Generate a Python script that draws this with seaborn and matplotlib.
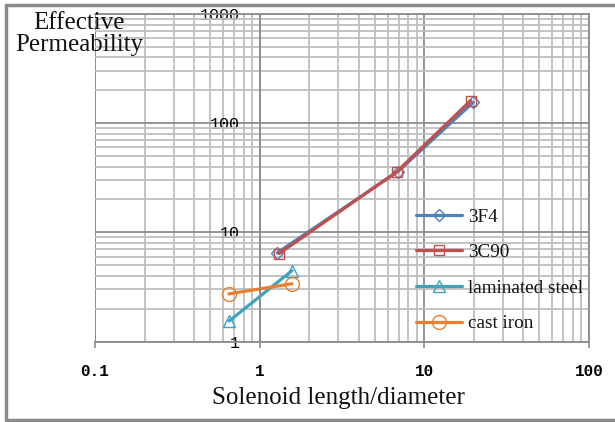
import matplotlib
matplotlib.use("Agg")
import matplotlib.pyplot as plt
import seaborn as sns
import pandas as pd
import numpy as np
from matplotlib.ticker import LogLocator, FixedLocator, NullFormatter
from matplotlib.lines import Line2D

# ---- data ----
series_names = ["3F4", "3C90", "laminated steel", "cast iron"]
x_3f4 = [1.28, 6.9, 19.8]
y_3f4 = [6.5, 36.0, 155.0]
x_3c90 = [1.31, 6.78, 19.1]
y_3c90 = [6.38, 35.7, 160.8]
x_lam = [0.653, 1.57]
y_lam = [1.54, 4.45]
x_cast = [0.65, 1.57]
y_cast = [2.73, 3.38]

colors = ["#4F81BD", "#C0504D", "#3FA3BE", "#E8802F"]
markers = ["D", "s", "^", "o"]
msizes = [6, 7, 8, 10]

xticks = [0.1, 1, 10, 100]
xticklabels = ["0.1", "1", "10", "100"]
yticks = [1, 10, 100, 1000]
yticklabels = ["1", "10", "100", "1000"]

frames = []
for name, xs, ys in [("3F4", x_3f4, y_3f4), ("3C90", x_3c90, y_3c90),
                     ("laminated steel", x_lam, y_lam), ("cast iron", x_cast, y_cast)]:
    frames.append(pd.DataFrame({"x": xs, "y": ys, "series": name}))
df = pd.concat(frames, ignore_index=True)

sns.set_theme(style="white")
plt.rcParams["font.family"] = ["Liberation Serif", "DejaVu Serif"]

fig = plt.figure(figsize=(6.15, 4.22), dpi=100)
ax = fig.add_axes([95 / 615, 1 - 341.5 / 422, 494 / 615, 327.5 / 422])

ax.set_xscale("log")
ax.set_yscale("log")
ax.set_xlim(0.1, 100)
ax.set_ylim(1, 1000)

# grid
ax.xaxis.set_minor_locator(LogLocator(base=10, subs=np.arange(2, 10)))
ax.yaxis.set_minor_locator(LogLocator(base=10, subs=np.arange(2, 10)))
ax.xaxis.set_minor_formatter(NullFormatter())
ax.yaxis.set_minor_formatter(NullFormatter())
ax.grid(True, which="minor", color="#BEBEBE", linewidth=1.3)
ax.grid(True, which="major", color="#8C8C8C", linewidth=1.3)
ax.set_axisbelow(True)

for name, c, m, ms in zip(series_names, colors, markers, msizes):
    sub = df[df["series"] == name]
    sns.lineplot(data=sub, x="x", y="y", ax=ax, color=c, linewidth=2.3,
                 marker=m, markersize=ms, markerfacecolor="none",
                 markeredgecolor=c, markeredgewidth=1.0, label=name,
                 legend=False, sort=False)

# y axis crosses at x = 1
for s in ["top", "right"]:
    ax.spines[s].set_color("#8C8C8C")
    ax.spines[s].set_linewidth(1.3)
ax.spines["left"].set_position(("data", 1))
ax.spines["left"].set_color("#8C8C8C")
ax.spines["left"].set_linewidth(1.3)
ax.spines["bottom"].set_color("#8C8C8C")
ax.spines["bottom"].set_linewidth(1.3)
# left border of plot area
ax.axvline(0.1, color="#8C8C8C", linewidth=1.3, zorder=0.5)

ax.xaxis.set_major_locator(FixedLocator(xticks))
ax.set_xticklabels(xticklabels, fontfamily="Liberation Mono", fontweight="bold",
                   fontsize=11.5, color="black")
ax.yaxis.set_major_locator(FixedLocator(yticks))
ax.set_yticklabels(yticklabels, fontfamily="Liberation Mono", fontsize=12, color="black")
ax.tick_params(axis="x", which="major", direction="out", length=4, width=1.2,
               color="#8C8C8C", pad=12, bottom=True)
ax.tick_params(axis="x", which="minor", length=0)
ax.tick_params(axis="y", which="both", length=0, pad=14)
ax.set_xlabel("")
ax.set_ylabel("")

# legend
handles = [Line2D([0], [0], color=c, linewidth=2.3, marker=m, markersize=ms,
                  markerfacecolor="none", markeredgecolor=c, markeredgewidth=1.0)
           for c, m, ms in zip(colors, markers, msizes)]
leg = ax.legend(handles, series_names, loc="upper left",
                bbox_to_anchor=(0.614, 0.46), frameon=False,
                handlelength=2.4, labelspacing=0.95, handletextpad=0.35,
                prop={"family": "Liberation Serif", "size": 13.8})
for t in leg.get_texts():
    t.set_color("#111111")

# axis titles
fig.text(79 / 615, 1 - 34 / 422, "Effective\nPermeability", ha="center", va="center",
         fontsize=18, linespacing=1.05, color="#111111")
fig.text(338 / 615, 1 - 398 / 422, "Solenoid length/diameter", ha="center", va="center",
         fontsize=18, color="#111111")

# figure border (left, top, bottom)
bc = "#8A8A8A"
fig.add_artist(Line2D([6 / 615, 615 / 615], [1 - 5 / 422, 1 - 5 / 422], color=bc, linewidth=2.5,
                      transform=fig.transFigure))
fig.add_artist(Line2D([6 / 615, 6 / 615], [1 - 5 / 422, 1 - 420 / 422], color=bc, linewidth=2.5,
                      transform=fig.transFigure))
fig.add_artist(Line2D([6 / 615, 615 / 615], [1 - 420 / 422, 1 - 420 / 422], color=bc, linewidth=2.5,
                      transform=fig.transFigure))

fig.savefig("out.png", dpi=100)
